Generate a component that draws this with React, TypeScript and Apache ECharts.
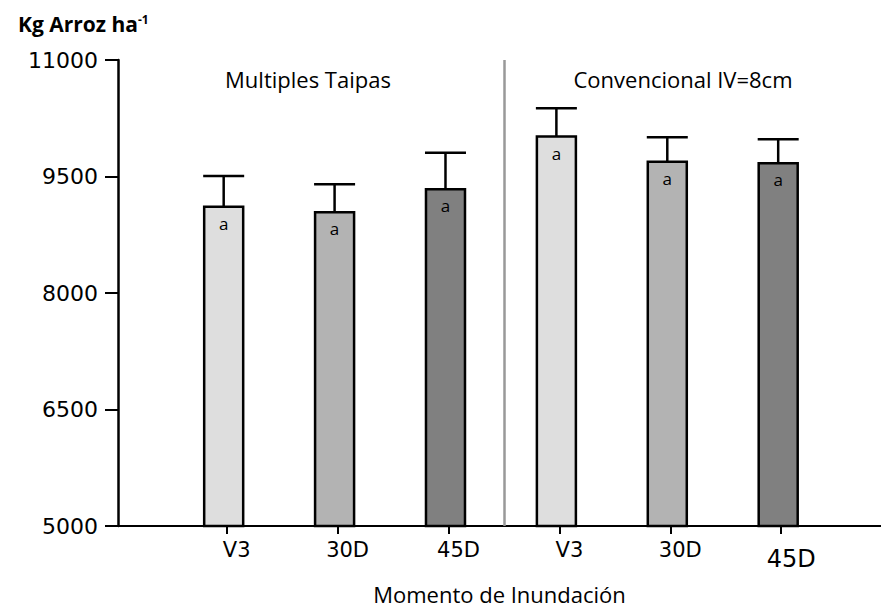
import React, { useEffect, useRef } from "react";
import * as echarts from "echarts";

const categories = ["V3", "30D", "45D", "V3", "30D", "45D"];
const positions = [1, 2, 3, 4, 5, 6];
const means = [9110, 9040, 9335, 10015, 9690, 9670];
const errors = [395, 360, 470, 365, 315, 310];
const letters = ["a", "a", "a", "a", "a", "a"];
const groupLabels = ["Multiples Taipas", "Convencional IV=8cm"];
const groupDivider = 3.5;
const yTicks = [5000, 6500, 8000, 9500, 11000];
const barColors = ["#DEDEDE", "#B3B3B3", "#808080", "#DEDEDE", "#B3B3B3", "#808080"];

export default function App() {
  const ref = useRef<HTMLDivElement>(null);
  useEffect(() => {
    document.body.style.margin = "0";
    const chart = echarts.init(ref.current!, null, { renderer: "svg" });
    const barData = positions.map((p, i) => [p, means[i]]);
    const errData = positions.map((p, i) => [p, means[i], means[i] + errors[i]]);
    chart.setOption({
      animation: false,
      backgroundColor: "#fff",
      title: {
        text: "{b|Kg Arroz ha}{s|-1}",
        left: 13,
        top: 8,
        textStyle: {
          fontFamily: "Open Sans",
          fontWeight: "bold",
          fontSize: 21,
          color: "#000",
          rich: {
            b: { fontFamily: "Open Sans", fontWeight: "bold", fontSize: 21, color: "#000" },
            s: { fontFamily: "Open Sans", fontWeight: "bold", fontSize: 12, color: "#000", verticalAlign: "top" },
          },
        },
      },
      grid: { left: 118, right: 0, top: 60, bottom: 79, containLabel: false },
      xAxis: {
        type: "value",
        min: 0.02,
        max: 6.9,
        splitLine: { show: false },
        axisLine: { show: true, onZero: false, lineStyle: { color: "#000", width: 2 } },
        axisTick: { show: true, customValues: positions, length: 8, lineStyle: { color: "#000", width: 2 } },
        axisLabel: {
          customValues: positions,
          formatter: (v: number) => {
            const i = Math.round(v) - 1;
            return i === 5 ? "{big|" + categories[i] + "}" : "{n|" + categories[i] + "}";
          },
          margin: 13,
          fontFamily: "DejaVu Sans",
          fontSize: 21,
          color: "#000",
          padding: [0, 0, 0, 20],
          rich: {
            n: { fontFamily: "DejaVu Sans", fontSize: 21, color: "#000" },
            big: { fontFamily: "DejaVu Sans", fontSize: 24, color: "#000", padding: [8, 0, 0, 0] },
          },
        },
        name: "Momento de Inundación",
        nameLocation: "middle",
        nameGap: 57,
        nameTextStyle: { fontFamily: "Open Sans", fontSize: 22, color: "#000" },
      },
      yAxis: {
        type: "value",
        min: 5000,
        max: 11000,
        splitLine: { show: false },
        axisLine: { show: true, lineStyle: { color: "#000", width: 2.5 } },
        axisTick: { show: true, customValues: yTicks, length: 13, lineStyle: { color: "#000", width: 2 } },
        axisLabel: {
          customValues: yTicks,
          formatter: (v: number) => String(v),
          fontFamily: "DejaVu Sans",
          fontSize: 22,
          color: "#000",
          margin: 20,
        },
      },
      graphic: [
        {
          type: "text",
          x: 308,
          y: 79,
          style: { text: groupLabels[0], align: "center", verticalAlign: "middle", fontFamily: "Open Sans", fontSize: 22, fill: "#000" },
        },
        {
          type: "text",
          x: 683,
          y: 79,
          style: { text: groupLabels[1], align: "center", verticalAlign: "middle", fontFamily: "Open Sans", fontSize: 22, fill: "#000" },
        },
      ],
      series: [
        {
          type: "custom",
          name: "bars",
          data: barData,
          renderItem: (params: any, api: any) => {
            const x = api.value(0);
            const y = api.value(1);
            const top = api.coord([x, y]);
            const base = api.coord([x, 5000]);
            const w = 39;
            const cx = top[0] - 3;
            const idx = params.dataIndex;
            return {
              type: "group",
              children: [
                {
                  type: "rect",
                  shape: { x: cx - w / 2, y: top[1], width: w, height: base[1] - top[1] },
                  style: { fill: barColors[idx], stroke: "#000", lineWidth: 2.5 },
                },
                {
                  type: "text",
                  style: {
                    text: letters[idx],
                    x: cx,
                    y: top[1] + 8,
                    align: "center",
                    verticalAlign: "top",
                    fontFamily: "Open Sans",
                    fontSize: 17,
                    fill: "#000",
                  },
                },
              ],
            };
          },
          z: 2,
        },
        {
          type: "custom",
          name: "errors",
          data: errData,
          renderItem: (params: any, api: any) => {
            const x = api.value(0);
            const lo = api.coord([x, api.value(1)]);
            const hi = api.coord([x, api.value(2)]);
            const cx = lo[0] - 3;
            const cw = 41;
            return {
              type: "group",
              children: [
                { type: "line", shape: { x1: cx, y1: lo[1], x2: cx, y2: hi[1] }, style: { stroke: "#000", lineWidth: 2.5 } },
                { type: "line", shape: { x1: cx - cw / 2, y1: hi[1], x2: cx + cw / 2, y2: hi[1] }, style: { stroke: "#000", lineWidth: 2.5 } },
              ],
            };
          },
          markLine: {
            silent: true,
            symbol: "none",
            label: { show: false },
            lineStyle: { color: "#999", width: 2.5, type: "solid" },
            data: [{ xAxis: groupDivider }],
          },
          z: 1,
        },
      ],
    });
    return () => chart.dispose();
  }, []);
  return <div ref={ref} style={{ width: 881, height: 610 }} />;
}
